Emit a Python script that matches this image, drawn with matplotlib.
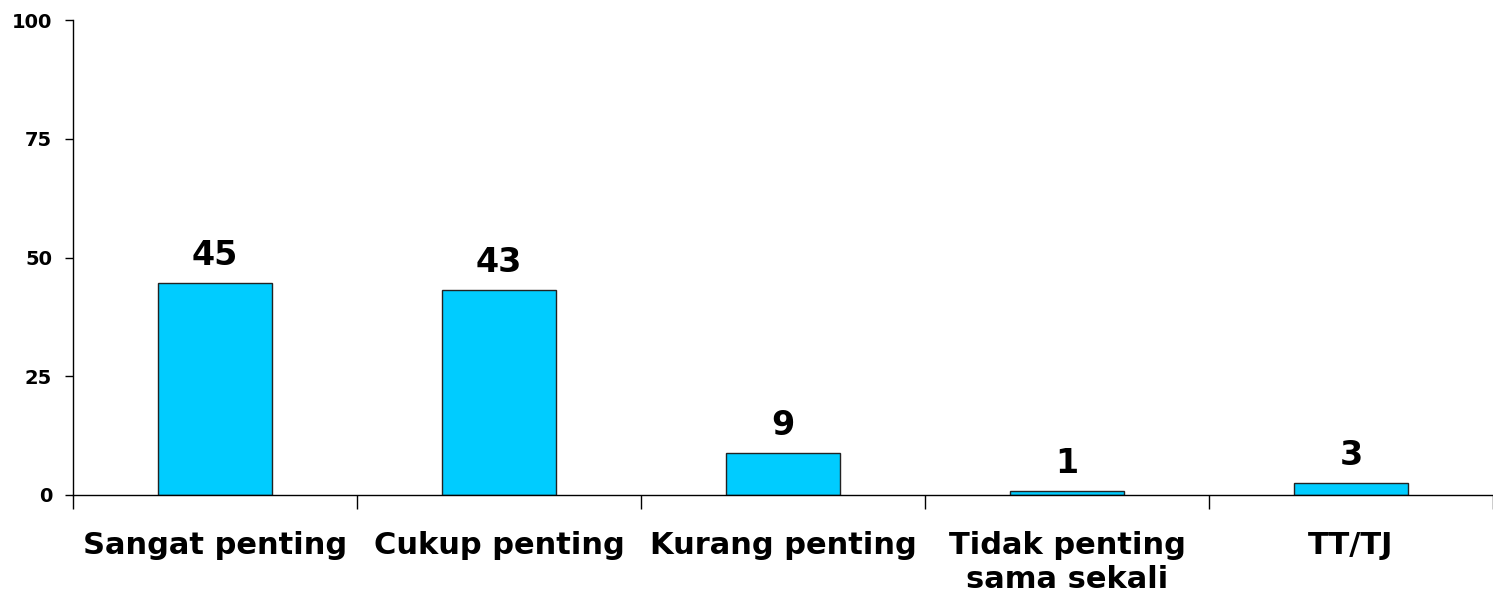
import matplotlib

matplotlib.use("Agg")
import matplotlib.pyplot as plt
import numpy as np

categories = ["Sangat penting", "Cukup penting", "Kurang penting", "Tidak penting\nsama sekali", "TT/TJ"]
values = [44.7, 43.2, 8.8, 0.8, 2.6]
labels = ["45", "43", "9", "1", "3"]
y_ticks = [0, 25, 50, 75, 100]

BAR_COLOR = "#00CCFF"


def main() -> None:
    plt.rcParams["font.family"] = ["Verdana", "DejaVu Sans"]
    plt.rcParams["font.weight"] = "bold"

    fig = plt.figure(figsize=(14.93, 5.96), dpi=100)
    ax = fig.add_axes([73 / 1493, 1 - 495 / 596, 1 - 73 / 1493, (495 - 20) / 596])

    x = np.arange(len(categories))
    ax.bar(x, values, width=0.4, color=BAR_COLOR, edgecolor="#222222", linewidth=1.0, zorder=2)

    for xi, v, lab in zip(x, values, labels):
        ax.annotate(lab, (xi, v), xytext=(0, 8), textcoords="offset points",
                    ha="center", va="bottom", fontsize=24, fontweight="bold")

    ax.set_xlim(-0.5, len(categories) - 0.5)
    ax.set_ylim(0, 100)
    ax.set_yticks(y_ticks)
    ax.set_yticklabels([str(t) for t in y_ticks], fontsize=14, fontweight="bold")
    ax.tick_params(axis="y", length=6, width=1, pad=9)

    ax.set_xticks(x)
    ax.set_xticklabels(categories, fontsize=22, fontweight="bold", linespacing=1.2)
    ax.tick_params(axis="x", which="major", length=0, pad=26)
    ax.set_xticks(np.arange(-0.5, len(categories), 1.0), minor=True)
    ax.tick_params(axis="x", which="minor", length=10, width=1)

    for side in ("top", "right"):
        ax.spines[side].set_visible(False)
    ax.spines["left"].set_linewidth(1)
    ax.spines["bottom"].set_linewidth(1)

    fig.savefig("out.png", dpi=100)
    plt.close(fig)


if __name__ == "__main__":
    main()
